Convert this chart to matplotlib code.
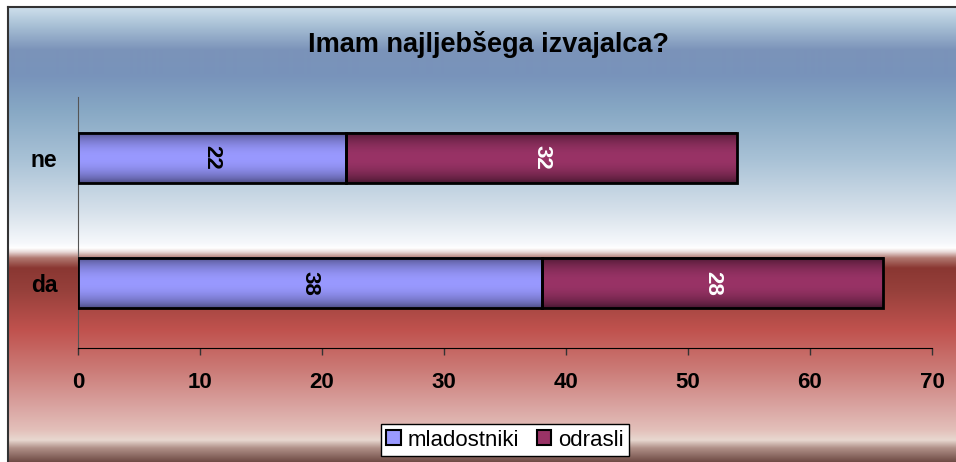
import numpy as np
import matplotlib.pyplot as plt
from matplotlib.colors import to_rgb
from matplotlib.patches import Patch

plt.rcParams['font.family'] = ['Liberation Sans', 'DejaVu Sans']

# data
categories = ['da', 'ne']
mladostniki = [38, 22]
odrasli = [28, 32]
xticks = [0, 10, 20, 30, 40, 50, 60, 70]
title = 'Imam najljebšega izvajalca?'

W, H = 956, 462
fig = plt.figure(figsize=(W / 100, H / 100), dpi=100)

# background gradient (pixel rows -> colour)
stops = [(7, '#cfe0ec'), (25, '#a9c1d6'), (50, '#7b93b9'), (75, '#7893bb'),
         (110, '#87a8c4'), (160, '#a9c2d6'), (210, '#d5e0ea'), (243, '#f6f8fb'),
         (248, '#ffffff'), (252, '#e8d8d6'), (258, '#b07870'), (268, '#8a3732'),
         (290, '#96403b'), (330, '#c0524e'), (370, '#cb7b77'), (410, '#dba8a5'),
         (430, '#e3c0ba'), (440, '#e8d8d0'), (448, '#b09088'), (462, '#6e4a44')]
sy = np.array([s[0] for s in stops])
sc = np.array([to_rgb(s[1]) for s in stops])
rows = np.arange(7, H) + 0.5
grad = np.stack([np.interp(rows, sy, sc[:, i]) for i in range(3)], axis=1)[:, None, :]

bg = fig.add_axes([0, 0, 1, 1], zorder=0)
bg.set_xlim(0, W)
bg.set_ylim(H, 0)
bg.axis('off')
bg.imshow(grad, extent=[8, W, H, 7], aspect='auto', interpolation='bilinear')
bg.plot([8, 8], [7, H], color='#333333', lw=1.5)
bg.plot([8, W], [7, 7], color='#333333', lw=1.5)
bg.set_xlim(0, W)
bg.set_ylim(H, 0)

ax = fig.add_axes([78 / W, 1 - 348 / H, 854 / W, 251 / H], zorder=1)
ax.patch.set_alpha(0)

y = np.arange(len(categories))


def shade(light, dark, n=64):
    t = np.linspace(0, 1, n)
    f = np.sin(np.pi * t) ** 0.7
    l = np.array(to_rgb(light))
    d = np.array(to_rgb(dark))
    return (d[None, :] * (1 - f[:, None]) + l[None, :] * f[:, None])[:, None, :]


series = [(mladostniki, [0, 0], '#9999ff', '#4a4a80', 'black'),
          (odrasli, mladostniki, '#993366', '#45162e', 'white')]
for vals, lefts, light, dark, tc in series:
    bars = ax.barh(y, vals, left=lefts, height=0.4, color='none',
                   edgecolor='black', linewidth=2, zorder=3)
    g = shade(light, dark)
    for p, v in zip(bars, vals):
        x0, y0, w, h = p.get_x(), p.get_y(), p.get_width(), p.get_height()
        ax.imshow(g, extent=[x0, x0 + w, y0, y0 + h], aspect='auto', zorder=2,
                  interpolation='bilinear')
        ax.text(x0 + w / 2, y0 + h / 2, str(v), rotation=-90, ha='center',
                va='center', fontsize=16, fontweight='bold', color=tc, zorder=4)

ax.set_xlim(0, 70)
ax.set_ylim(-0.516, 1.484)
ax.set_xticks(xticks)
ax.set_yticks(y)
ax.set_yticklabels(categories)
ax.tick_params(axis='x', length=5, width=1, color='#333333', pad=12, labelsize=16)
ax.tick_params(axis='y', length=0, pad=15, labelsize=16.5)
for lab in ax.get_xticklabels() + ax.get_yticklabels():
    lab.set_fontweight('bold')
ax.spines['top'].set_visible(False)
ax.spines['right'].set_visible(False)
ax.spines['left'].set_color('#555555')
ax.spines['bottom'].set_color('black')

fig.text(488 / W, 1 - 45 / H, title, ha='center', va='center',
         fontsize=19.5, fontweight='bold')

handles = [Patch(facecolor='#9999ff', edgecolor='black', lw=1.5, label='mladostniki'),
           Patch(facecolor='#993366', edgecolor='black', lw=1.5, label='odrasli')]
leg = fig.legend(handles=handles, loc='center', bbox_to_anchor=(505 / W, 1 - 440 / H),
                 ncol=2, fontsize=16, frameon=True, fancybox=False,
                 handlelength=0.65, handleheight=0.65, handletextpad=0.3,
                 columnspacing=0.8, borderpad=0.25, borderaxespad=0)
leg.get_frame().set_edgecolor('black')
leg.get_frame().set_facecolor('white')
leg.get_frame().set_alpha(1)
leg.get_frame().set_linewidth(1)

fig.savefig('out.png', dpi=100)
